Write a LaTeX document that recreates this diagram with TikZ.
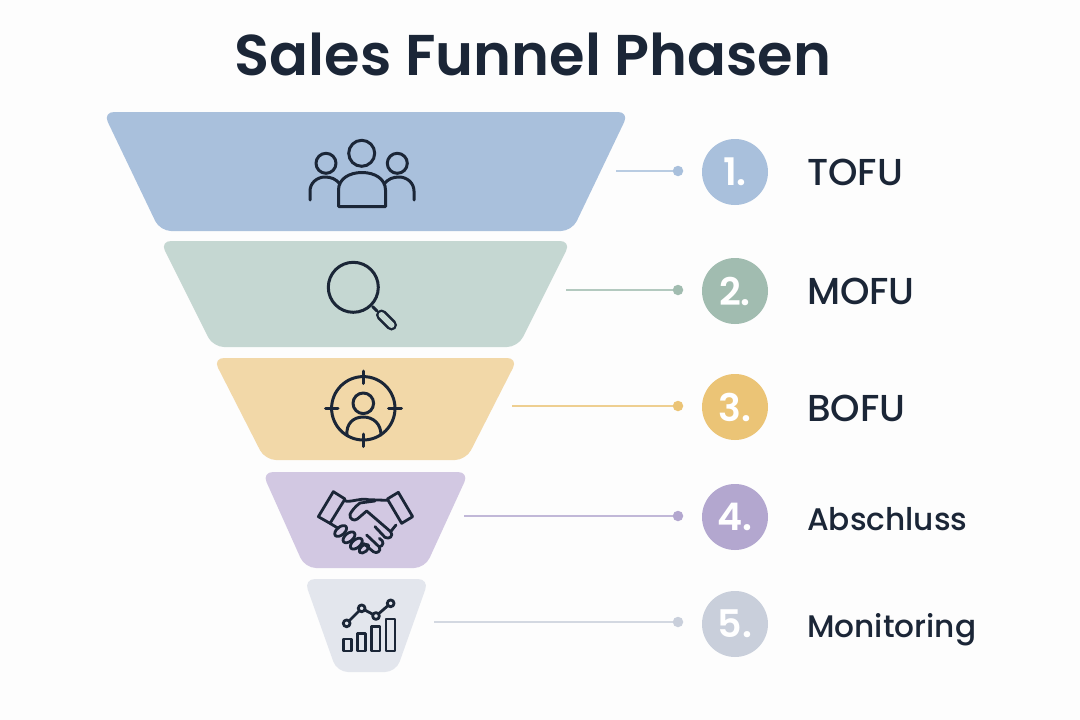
\documentclass[tikz,border=0pt]{standalone}
\usepackage{fontspec}
\setmainfont{Poppins}
\newfontfamily\medf{Poppins Medium}
\newfontfamily\semif{Poppins SemiBold}
\definecolor{ink}{HTML}{1B2637}
\definecolor{fa}{HTML}{A9C0DC}\definecolor{fb}{HTML}{C5D7D2}\definecolor{fc}{HTML}{F2D8A8}\definecolor{fd}{HTML}{D2C8E2}\definecolor{fe}{HTML}{E3E6ED}
\definecolor{ca}{HTML}{A9C0DC}\definecolor{cb}{HTML}{A1BCB0}\definecolor{cc}{HTML}{EBC476}\definecolor{cd}{HTML}{B3A7CF}\definecolor{ce}{HTML}{C9CFDB}
\definecolor{paper}{HTML}{FDFDFD}
\tikzset{
 x=1pt,y=-1pt,
 band/.style={rounded corners=11pt,draw=none},
 num/.style={circle,minimum size=66pt,inner sep=0pt,text=white,font=\semif\fontsize{38}{38}\selectfont},
 dot/.style={circle,minimum size=10.5pt,inner sep=0pt},
 lab/.style={anchor=west,inner sep=0pt,text=ink,font=\medf\fontsize{37.5}{38}\selectfont},
 labs/.style={anchor=west,inner sep=0pt,text=ink,font=\medf\fontsize{31.2}{32}\selectfont},
 link/.style={line width=1.3pt,opacity=.8},
 ico/.style={draw=ink,line width=3pt,line cap=round,line join=round},
 thin/.style={draw=ink,line width=2.8pt,line cap=round,line join=round},
}
\begin{document}
\begin{tikzpicture}
\useasboundingbox (0,0) rectangle (1080,720);
\fill[paper] (0,0) rectangle (1080,720);
\node[inner sep=0pt,text=ink] (title) at (533,54) {\semif\fontsize{57.5}{58}\selectfont Sales Funnel Phasen};
% bands
\fill[fa,band] (103,112)--(629,112)--(572,231)--(160,231)--cycle;
\fill[fb,band] (160,241)--(571,241)--(518,347)--(213,347)--cycle;
\fill[fc,band] (213,358)--(518,358)--(466,460)--(265,460)--cycle;
\fill[fd,band] (262,472)--(469,472)--(425,568)--(305,568)--cycle;
\fill[fe,band] (304,579)--(429,579)--(396,672)--(337,672)--cycle;
\coordinate (f1) at (616,171);\coordinate (f2) at (566,290);\coordinate (f3) at (512,406);\coordinate (f4) at (464,516);\coordinate (f5) at (434,622);
% legend
\node[dot,fill=ca] (d1) at (678,171) {};
\node[dot,fill=cb] (d2) at (678,290) {};
\node[dot,fill=cc] (d3) at (678,406) {};
\node[dot,fill=cd] (d4) at (678,516) {};
\node[dot,fill=ce] (d5) at (678,622) {};
\draw[link,ca] (f1)--(d1);\draw[link,cb] (f2)--(d2);\draw[link,cc] (f3)--(d3);\draw[link,cd] (f4)--(d4);\draw[link,ce] (f5)--(d5);
\node[num,fill=ca] (n1) at (735,172) {1.};
\node[num,fill=cb] (n2) at (735,291) {2.};
\node[num,fill=cc] (n3) at (735,407) {3.};
\node[num,fill=cd] (n4) at (735,517) {4.};
\node[num,fill=ce] (n5) at (735,624) {5.};
\node[lab] (l1) at (807,172) {TOFU};
\node[lab] (l2) at (807,291) {MOFU};
\node[lab] (l3) at (807,408) {BOFU};
\node[labs] (l4) at (807,519) {Abschluss};
\node[labs] (l5) at (807,630) {Monitoring};
% icon 1
\draw[ico] (361.7,153.3) circle (13);
\draw[ico] (326,163.3) circle (10);
\draw[ico] (397.3,163.3) circle (10);
\draw[ico] (338.5,206.5)--(338.5,190) .. controls (338.5,179) and (349,172.5) .. (362,172.5) .. controls (375,172.5) and (385.5,179) .. (385.5,190)--(385.5,206.5)--cycle;
\draw[ico] (310,200)--(310,191) .. controls (310,183) and (317,177) .. (325,177) .. controls (331,177) and (336,179) .. (340,184);
\draw[ico] (414,200)--(414,191) .. controls (414,183) and (407,177) .. (399,177) .. controls (393,177) and (388,179) .. (384,184);
% icon 2
\draw[ico] (353.3,287.3) circle (25);
\draw[ico] (372.7,306.7)--(377,311);
\draw[ico,line width=2.5pt,double=fb,double distance=6pt] (381.5,315)--(391.5,325);
% icon 3
\draw[ico] (363.3,408.3) circle (31.7);
\draw[ico] (363.3,371)--(363.3,383.5);
\draw[ico] (363.3,434)--(363.3,446.5);
\draw[ico] (325.5,408.3)--(338,408.3);
\draw[ico] (388.5,408.3)--(401.5,408.3);
\draw[ico] (363.3,403.3) circle (10.3);
\draw[ico] (347,435) .. controls (346,424) and (353,417) .. (363.3,417) .. controls (373.5,417) and (381,424) .. (381,435);
% icon 4
\begin{scope}[shift={(300,475)},x=0.3333pt,y=-0.3333pt]
\draw[thin] (100,50)--(135,72)--(90,145)--(55,125)--cycle;
\draw[thin] (295,52)--(262,72)--(305,145)--(338,125)--cycle;
\draw[thin] (135,78) .. controls (160,82) and (180,68) .. (205,74) -- (262,76);
\draw[thin] (225,78)--(180,84) .. controls (165,95) and (155,108) .. (150,118) .. controls (148,132) and (162,140) .. (172,132) -- (200,108) -- (272,170) .. controls (282,182) and (268,195) .. (255,187);
\draw[thin] (225,155)--(255,187);
\draw[thin] (288,150)--(272,170);
\draw[thin] (90,145)--(115,160);
\draw[thin] (200,180)--(238,216) .. controls (245,228) and (230,238) .. (220,230) -- (190,205);
\draw[thin] (238,190) .. controls (255,200) and (250,212) .. (238,216);
\draw[thin,rotate around={40:(122,168)}] (122,168) ellipse (21 and 12);
\draw[thin,rotate around={40:(147,187)}] (147,187) ellipse (21 and 12);
\draw[thin,rotate around={40:(169,206)}] (169,206) ellipse (21 and 12);
\draw[thin,rotate around={40:(192,221)}] (192,221) ellipse (17 and 10);
\end{scope}
% icon 5
\begin{scope}[shift={(300,575)},x=0.3333pt,y=-0.3333pt]
\draw[thin] (130,192) rectangle (155,228);
\draw[thin] (172,175) rectangle (197,228);
\draw[thin] (215,155) rectangle (240,228);
\draw[thin] (258,132) rectangle (285,228);
\draw[thin] (140,145)--(185,100)--(228,123)--(272,85);
\foreach \p in {(140,145),(185,100),(228,123),(272,85)} \draw[thin,fill=fe] \p circle (3.4pt);
\end{scope}
\end{tikzpicture}
\end{document}
